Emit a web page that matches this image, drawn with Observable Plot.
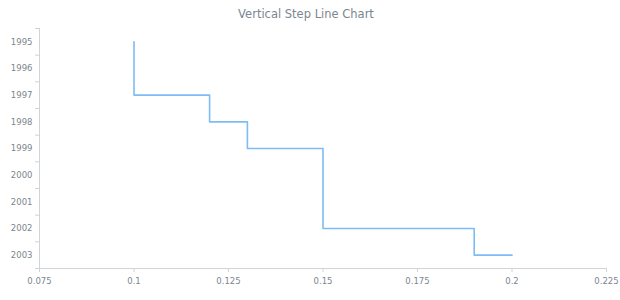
<!DOCTYPE html>
<html><head><meta charset="utf-8">
<script src="https://cdn.jsdelivr.net/npm/d3@7"></script>
<script src="https://cdn.jsdelivr.net/npm/@observablehq/plot@0.6"></script>
<style>
body{margin:0;background:#fff;font-family:"DejaVu Sans",sans-serif;}
#wrap{position:relative;width:620px;height:300px;}
#title{position:absolute;left:0;top:0;width:612px;height:28px;line-height:28px;text-align:center;font-size:11.5px;color:#7c868e;}
svg{overflow:visible;}
</style>
</head><body>
<div id="wrap"><div id="title">Vertical Step Line Chart</div></div>
<script>
const years = [1995, 1996, 1997, 1998, 1999, 2000, 2001, 2002, 2003];
const values = [0.1, 0.1, 0.12, 0.13, 0.15, 0.15, 0.15, 0.19, 0.2];
const xTicks = [0.075, 0.1, 0.125, 0.15, 0.175, 0.2, 0.225];

const data = years.map((year, i) => ({year, value: values[i]}));
const boundaries = [...years.map(y => y - 0.5), years[years.length - 1] + 0.5];
const axisColor = "#cfd4d8";
const textColor = "#7c868e";

const chart = Plot.plot({
  width: 620,
  height: 300,
  marginTop: 28,
  marginBottom: 32,
  marginLeft: 39,
  marginRight: 14,
  style: {fontFamily: "DejaVu Sans", fontSize: "8.5px", color: textColor, background: "#fff"},
  x: {domain: [xTicks[0], xTicks[xTicks.length - 1]]},
  y: {domain: [boundaries[0], boundaries[boundaries.length - 1]], reverse: true},
  marks: [
    Plot.ruleX([xTicks[0]], {stroke: axisColor}),
    Plot.ruleY([boundaries[boundaries.length - 1]], {stroke: axisColor}),
    Plot.axisY(boundaries, {tickSize: 4, tickFormat: () => "", stroke: axisColor, label: null}),
    Plot.axisY(years, {tickSize: 0, tickPadding: 7, tickFormat: d => String(d), fill: textColor, label: null}),
    Plot.axisX(xTicks, {tickSize: 4, tickPadding: 5, tickFormat: d => String(+d.toFixed(3)), stroke: axisColor, fill: textColor, label: null}),
    Plot.line(data, {x: "value", y: "year", curve: "step-before", stroke: "#7dbcf4", strokeWidth: 1.6})
  ]
});
document.getElementById("wrap").appendChild(chart);
</script>
</body></html>
